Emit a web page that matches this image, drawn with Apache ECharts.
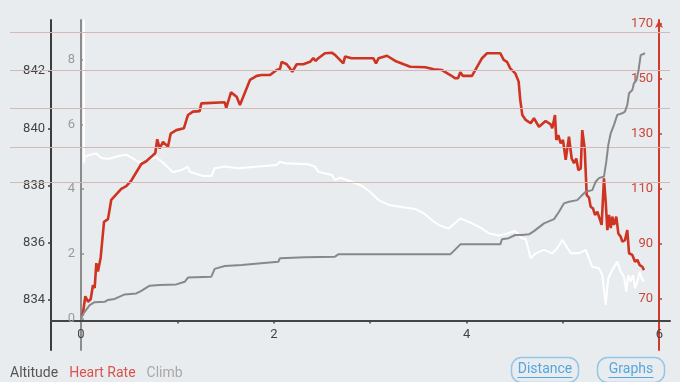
<!DOCTYPE html>
<html>
<head>
<meta charset="utf-8">
<script src="https://cdn.jsdelivr.net/npm/echarts@6/dist/echarts.min.js"></script>
<style>
html,body{margin:0;padding:0;background:#e9ecef;}
#chart{width:680px;height:382px;}
</style>
</head>
<body>
<div id="chart"></div>
<script>
// ---- data (distance in units, value) ----
const altitude = [[0.03,843.78],[0.03,838.78],[0.038,839.0],[0.090,839.07],[0.159,839.12],[0.194,839.0],[0.228,838.95],[0.280,838.93],[0.314,838.95],[0.401,839.04],[0.470,839.07],[0.539,838.95],[0.591,838.83],[0.661,838.83],[0.713,838.93],[0.781,839.0],[0.868,838.74],[0.954,838.46],[1.040,838.54],[1.110,838.66],[1.128,838.48],[1.266,838.33],[1.352,838.33],[1.387,838.6],[1.491,838.66],[1.632,838.6],[1.839,838.66],[2.030,838.72],[2.064,838.83],[2.116,838.78],[2.358,838.74],[2.427,838.66],[2.462,838.48],[2.601,838.37],[2.635,838.19],[2.687,838.27],[2.808,838.13],[2.912,837.99],[2.998,837.78],[3.053,837.6],[3.088,837.49],[3.192,837.32],[3.312,837.26],[3.468,837.18],[3.555,837.03],[3.659,836.74],[3.727,836.6],[3.814,836.5],[3.935,836.85],[4.056,836.68],[4.160,836.5],[4.229,836.33],[4.333,836.25],[4.401,836.3],[4.505,836.41],[4.575,836.15],[4.613,836.13],[4.665,835.46],[4.717,835.63],[4.803,835.75],[4.889,835.63],[4.951,835.86],[4.993,836.1],[5.080,835.63],[5.166,835.63],[5.235,835.75],[5.304,835.16],[5.373,835.11],[5.408,834.87],[5.443,833.83],[5.470,834.76],[5.511,835.05],[5.563,835.34],[5.599,834.99],[5.633,834.81],[5.657,834.29],[5.677,834.87],[5.702,834.64],[5.726,834.87],[5.747,834.41],[5.771,834.64],[5.796,834.99],[5.816,834.76],[5.840,834.64]];

const heartRate = [[0.01,64],[0.021,65],[0.045,71],[0.073,69],[0.101,70],[0.124,75],[0.142,74],[0.159,83],[0.176,80],[0.204,85],[0.239,98],[0.280,99],[0.314,106],[0.366,108],[0.418,110],[0.470,111],[0.522,113],[0.574,116],[0.591,115.6],[0.626,119],[0.677,120],[0.729,121.6],[0.771,123],[0.791,128],[0.816,124.7],[0.851,127],[0.902,125.3],[0.930,130],[0.989,131.3],[1.068,132],[1.110,136.8],[1.162,138],[1.231,138.2],[1.248,141],[1.491,141.4],[1.507,139.4],[1.522,139.2],[1.556,145],[1.615,143.4],[1.649,140.4],[1.753,149.5],[1.823,151],[1.874,151.3],[1.961,151.3],[2.030,153.1],[2.064,153.5],[2.082,156.1],[2.134,155.2],[2.168,153.7],[2.192,152.5],[2.238,155.2],[2.306,155.2],[2.376,156.1],[2.410,157.4],[2.435,156.4],[2.462,157.4],[2.531,159.2],[2.601,159.4],[2.635,158.6],[2.721,155.5],[2.739,158],[2.808,157.4],[3.032,157.4],[3.060,155.5],[3.088,157.4],[3.174,158.3],[3.260,156.4],[3.348,155.2],[3.416,154.3],[3.572,154.1],[3.659,153.4],[3.745,153.1],[3.831,151.3],[3.883,150.1],[3.911,150.1],[3.935,152.3],[3.960,151],[4.056,151],[4.160,157.4],[4.212,159.2],[4.350,159.2],[4.385,156.8],[4.419,156.1],[4.453,153.7],[4.505,151.9],[4.540,148.9],[4.557,142.2],[4.578,136.8],[4.613,135],[4.665,133.8],[4.699,135.6],[4.751,132.5],[4.820,134.6],[4.872,133.4],[4.889,132],[4.917,136.8],[4.931,127.7],[4.951,129.5],[4.976,126.5],[5.000,127.7],[5.028,120.5],[5.062,128.9],[5.090,121],[5.114,119.3],[5.138,121],[5.159,116.8],[5.184,117.4],[5.200,131.3],[5.225,124.7],[5.246,107.7],[5.270,106.8],[5.287,103.5],[5.311,102.9],[5.332,100.5],[5.356,101.7],[5.373,99.9],[5.401,96.9],[5.425,113.8],[5.443,105.3],[5.460,95],[5.477,100.5],[5.495,95.7],[5.511,99.9],[5.529,96.9],[5.553,99.9],[5.574,93.8],[5.599,92.6],[5.615,90.8],[5.643,91.4],[5.667,95],[5.685,86.6],[5.719,86],[5.747,83.5],[5.771,84.2],[5.796,82.3],[5.823,81.7],[5.840,80.5]];

const climb = [[0.0,0],[0.038,0.2],[0.090,0.41],[0.142,0.5],[0.246,0.51],[0.280,0.57],[0.350,0.6],[0.453,0.74],[0.574,0.77],[0.626,0.85],[0.713,1.01],[0.816,1.03],[0.989,1.05],[1.076,1.13],[1.110,1.26],[1.352,1.29],[1.387,1.53],[1.491,1.62],[1.667,1.65],[1.839,1.70],[2.047,1.75],[2.064,1.86],[2.324,1.89],[2.635,1.91],[2.669,1.98],[3.831,1.98],[3.935,2.29],[4.350,2.29],[4.367,2.45],[4.437,2.48],[4.505,2.58],[4.575,2.58],[4.647,2.6],[4.699,2.7],[4.803,2.94],[4.907,3.07],[4.959,3.3],[5.010,3.56],[5.062,3.61],[5.148,3.66],[5.184,3.77],[5.235,3.92],[5.304,3.97],[5.339,4.23],[5.373,4.34],[5.425,4.39],[5.449,4.85],[5.470,5.37],[5.495,5.73],[5.529,5.99],[5.563,6.3],[5.615,6.35],[5.643,6.4],[5.667,6.61],[5.685,6.97],[5.719,7.07],[5.736,7.28],[5.763,7.38],[5.784,7.69],[5.806,8.15],[5.823,8.21],[5.851,8.21]];

const hrZones = [167.0, 153.1, 139.2, 125.2, 112.2];

const xLabels = [0, 2, 4, 6];
const xTicks = [1, 2, 3, 4, 5];
const altLabels = [834, 836, 838, 840, 842];
const climbLabels = [0, 2, 4, 6, 8];
const hrLabels = [70, 90, 110, 130, 150, 170];

const seriesNames = ['Altitude', 'Heart Rate', 'Climb'];

// ---- chart ----
const chart = echarts.init(document.getElementById('chart'), null, {renderer: 'canvas'});
const FONT = 'Roboto';
const HR_MIN = 51.49, HR_MAX = 171.27;

const option = {
  backgroundColor: '#e9ecef',
  animation: false,
  textStyle: {fontFamily: FONT},
  legend: {
    left: 0, top: 361,
    icon: 'none', itemWidth: 0, itemHeight: 14, itemGap: 6,
    selectedMode: false,
    textStyle: {fontSize: 14, fontFamily: FONT},
    data: [
      {name: seriesNames[0], textStyle: {color: '#555555'}},
      {name: seriesNames[1], textStyle: {color: '#d9534f'}},
      {name: seriesNames[2], textStyle: {color: '#a8a8a8'}}
    ]
  },
  grid: [
    {left: 51, right: 10, top: 20, bottom: 32},
    {left: 10, right: 10, top: 20, bottom: 32}
  ],
  xAxis: [
    {
      type: 'value', gridIndex: 0, min: -0.311, max: 6.11,
      position: 'bottom', offset: -29.5,
      axisLine: {onZero: false, lineStyle: {color: '#444', width: 2}},
      axisTick: {customValues: xTicks, length: 3, lineStyle: {color: '#444', width: 1.5}},
      axisLabel: {customValues: xLabels, color: '#444', fontSize: 13, margin: 8},
      splitLine: {show: false}
    },
    {type: 'value', gridIndex: 1, min: 0, max: 1, show: false}
  ],
  yAxis: [
    {
      type: 'value', gridIndex: 0, position: 'left', offset: 0,
      min: 832.253, max: 843.782,
      axisLine: {show: true, onZero: false, lineStyle: {color: '#3c3c3c', width: 2}},
      axisTick: {show: true, customValues: altLabels, length: 3, lineStyle: {color: '#3c3c3c', width: 1.5}},
      axisLabel: {customValues: altLabels, color: '#444', fontSize: 13, margin: 6},
      splitLine: {show: false}
    },
    {
      type: 'value', gridIndex: 0, position: 'left', offset: -30,
      min: -0.982, max: 9.239,
      axisLine: {show: true, onZero: false, lineStyle: {color: '#8c8c8c', width: 2}},
      axisTick: {show: true, inside: true, customValues: climbLabels, length: 3, lineStyle: {color: '#8c8c8c', width: 1.5}},
      axisLabel: {customValues: climbLabels, color: '#9a9a9a', fontSize: 13, margin: 6},
      splitLine: {show: false}
    },
    {
      type: 'value', gridIndex: 0, position: 'right', offset: -11,
      min: HR_MIN, max: HR_MAX,
      axisLine: {show: true, onZero: false, symbol: ['none', 'arrow'], symbolSize: [6, 8], lineStyle: {color: '#d0392b', width: 2}},
      axisTick: {show: true, customValues: hrLabels, length: 3, lineStyle: {color: '#d0392b', width: 1.5}},
      axisLabel: {customValues: hrLabels, inside: true, color: '#c9473b', fontSize: 13, margin: 6},
      splitLine: {show: false}
    },
    {type: 'value', gridIndex: 1, min: HR_MIN, max: HR_MAX, show: false}
  ],
  series: [
    {
      name: 'zones', type: 'line', xAxisIndex: 1, yAxisIndex: 3, data: [], z: 1,
      silent: true,
      markLine: {
        silent: true, symbol: 'none', animation: false,
        label: {show: false},
        lineStyle: {color: '#d6b6b6', width: 1, type: 'solid'},
        emphasis: {disabled: true},
        data: hrZones.map(v => ({yAxis: v}))
      }
    },
    {
      name: seriesNames[0], type: 'line', xAxisIndex: 0, yAxisIndex: 0,
      data: altitude, showSymbol: false, symbol: 'none', z: 3,
      lineStyle: {color: '#ffffff', width: 2}, itemStyle: {color: '#ffffff'},
      emphasis: {disabled: true}
    },
    {
      name: seriesNames[1], type: 'line', xAxisIndex: 0, yAxisIndex: 2,
      data: heartRate, showSymbol: false, symbol: 'none', z: 4,
      lineStyle: {color: '#cf3322', width: 2.6}, itemStyle: {color: '#cf3322'},
      emphasis: {disabled: true}
    },
    {
      name: seriesNames[2], type: 'line', xAxisIndex: 0, yAxisIndex: 1,
      data: climb, showSymbol: false, symbol: 'none', z: 5,
      lineStyle: {color: '#888888', width: 2}, itemStyle: {color: '#888888'},
      emphasis: {disabled: true}
    }
  ],
  graphic: [
    {
      type: 'group', left: 509, top: 355,
      children: [
        {type: 'rect', shape: {x: 0, y: 0, width: 67, height: 25, r: 10}, style: {fill: 'none', stroke: '#93c6e8', lineWidth: 1.5}},
        {type: 'text', x: 33.5, y: 12, style: {text: 'Distance', fill: '#55a7dc', font: '14px Roboto', align: 'center', verticalAlign: 'middle'}},
        {type: 'line', shape: {x1: 6, y1: 20, x2: 61, y2: 20}, style: {stroke: '#55a7dc', lineWidth: 1}}
      ]
    },
    {
      type: 'group', left: 595, top: 355,
      children: [
        {type: 'rect', shape: {x: 0, y: 0, width: 67, height: 25, r: 10}, style: {fill: 'none', stroke: '#93c6e8', lineWidth: 1.5}},
        {type: 'text', x: 33.5, y: 12, style: {text: 'Graphs', fill: '#55a7dc', font: '14px Roboto', align: 'center', verticalAlign: 'middle'}},
        {type: 'line', shape: {x1: 11, y1: 20, x2: 56, y2: 20}, style: {stroke: '#55a7dc', lineWidth: 1}}
      ]
    }
  ]
};
chart.setOption(option);
</script>
</body>
</html>
